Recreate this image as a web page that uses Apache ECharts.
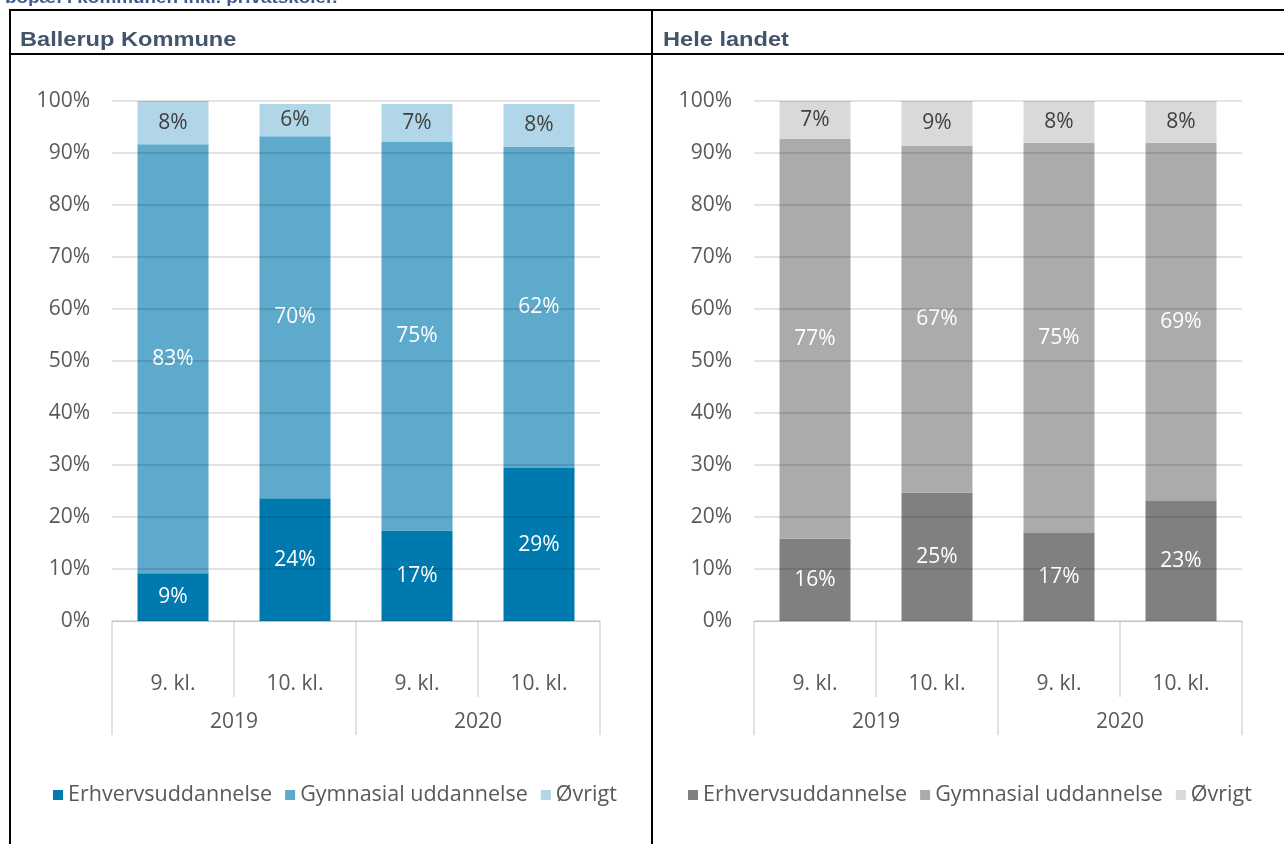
<!DOCTYPE html>
<html><head><meta charset="utf-8">
<script src="https://cdn.jsdelivr.net/npm/echarts@6/dist/echarts.min.js"></script>
<style>html,body{margin:0;padding:0;background:#fff}#c{width:1284px;height:844px}</style>
</head><body><div id="c"></div>
<script>
// ---- data ----
const classes = ['9. kl.', '10. kl.', '9. kl.', '10. kl.'];
const years = ['2019', '2020'];
const seriesNames = ['Erhvervsuddannelse', 'Gymnasial uddannelse', 'Øvrigt'];
const panelTitles = ['Ballerup Kommune', 'Hele landet'];
const topTitle = 'bopæl i kommunen inkl. privatskoler.';

const ballerupErhverv   = [9.2, 23.6, 17.4, 29.4];
const ballerupGymnasial = [82.5, 69.6, 74.8, 61.8];
const ballerupOevrigt   = [8.3, 6.2, 7.2, 8.2];

const landetErhverv   = [15.8, 24.7, 16.9, 23.1];
const landetGymnasial = [76.9, 66.7, 75.0, 68.8];
const landetOevrigt   = [7.3, 8.6, 8.1, 8.1];

// ---- styles ----
const blueColors = ['#0079AF', '#5DAACD', '#B1D6E7'];
const grayColors = ['#808080', '#ABABAB', '#D9D9D9'];
const labelColors = ['#FFFFFF', '#FFFFFF', '#404040'];
const FONT = '"Open Sans", Lato, sans-serif';
const TXT = '#595959';
const GRID = '#D9D9D9';
const FS = 21;

const chart = echarts.init(document.getElementById('c'), null, {renderer: 'canvas'});

const grids = [
  {left: 112, top: 101, width: 488, height: 520},
  {left: 754, top: 101, width: 488, height: 520}
];

function xAxesFor(gi) {
  return [
    {
      type: 'category', gridIndex: gi, position: 'bottom', data: classes,
      axisLine: {show: true, lineStyle: {color: GRID, width: 1}},
      axisTick: {show: true, length: 76, interval: 0, lineStyle: {color: GRID, width: 1.5}},
      axisLabel: {interval: 0, margin: 53, color: TXT, fontSize: FS, fontFamily: FONT}
    },
    {
      type: 'category', gridIndex: gi, position: 'bottom', data: years,
      axisLine: {show: true, lineStyle: {color: GRID, width: 1}},
      axisTick: {show: true, length: 114, interval: 0, lineStyle: {color: GRID, width: 1.5}},
      axisLabel: {interval: 0, margin: 91, color: TXT, fontSize: FS, fontFamily: FONT}
    }
  ];
}

function yAxisFor(gi) {
  return {
    type: 'value', gridIndex: gi, min: 0, max: 100, interval: 10, z: 10,
    axisLine: {show: false}, axisTick: {show: false},
    splitLine: {show: true, lineStyle: {color: 'rgba(0,0,0,0.15)', width: 1.5}},
    axisLabel: {formatter: '{value}%', margin: 22, color: TXT, fontSize: FS, fontFamily: FONT}
  };
}

function seriesFor(gi, datasets, colors) {
  return datasets.map((d, i) => ({
    name: seriesNames[i], type: 'bar', stack: 'p' + gi,
    xAxisIndex: gi * 2, yAxisIndex: gi,
    barWidth: 71, data: d,
    itemStyle: {color: colors[i]},
    label: {
      show: true, position: 'inside', color: labelColors[i],
      fontSize: FS, fontFamily: FONT,
      formatter: p => Math.round(p.value) + '%'
    }
  }));
}

function legendFor(left, colors) {
  return {
    left: left, top: 779, orient: 'horizontal', selectedMode: false,
    icon: 'rect', itemWidth: 10, itemHeight: 10, itemGap: 13,
    textStyle: {color: TXT, fontSize: 21.5, fontFamily: FONT},
    data: seriesNames.map((n, i) => ({name: n, itemStyle: {color: colors[i]}}))
  };
}

const lineStyle = {stroke: '#000', lineWidth: 2};
const graphic = [
  {type: 'text', x: 5, y: -1, scaleX: 1.18, style: {text: topTitle, fill: '#3F5A8C', font: 'bold 16px "Liberation Sans", Arial, sans-serif', textVerticalAlign: 'middle'}},
  {type: 'line', shape: {x1: 9, y1: 10, x2: 1284, y2: 10}, style: lineStyle},
  {type: 'line', shape: {x1: 9, y1: 54, x2: 1284, y2: 54}, style: lineStyle},
  {type: 'line', shape: {x1: 10, y1: 9, x2: 10, y2: 844}, style: lineStyle},
  {type: 'line', shape: {x1: 652, y1: 9, x2: 652, y2: 844}, style: lineStyle},
  {type: 'text', x: 20, y: 40.5, scaleX: 1.18, style: {text: panelTitles[0], fill: '#44546A', font: 'bold 20px "Liberation Sans", Arial, sans-serif', textVerticalAlign: 'middle'}},
  {type: 'text', x: 663, y: 40.5, scaleX: 1.18, style: {text: panelTitles[1], fill: '#44546A', font: 'bold 20px "Liberation Sans", Arial, sans-serif', textVerticalAlign: 'middle'}}
];

chart.setOption({
  animation: false,
  backgroundColor: '#fff',
  grid: grids,
  xAxis: [...xAxesFor(0), ...xAxesFor(1)],
  yAxis: [yAxisFor(0), yAxisFor(1)],
  legend: [legendFor(48, blueColors), legendFor(683, grayColors)],
  series: [
    ...seriesFor(0, [ballerupErhverv, ballerupGymnasial, ballerupOevrigt], blueColors),
    ...seriesFor(1, [landetErhverv, landetGymnasial, landetOevrigt], grayColors)
  ],
  graphic: graphic
});
</script></body></html>
